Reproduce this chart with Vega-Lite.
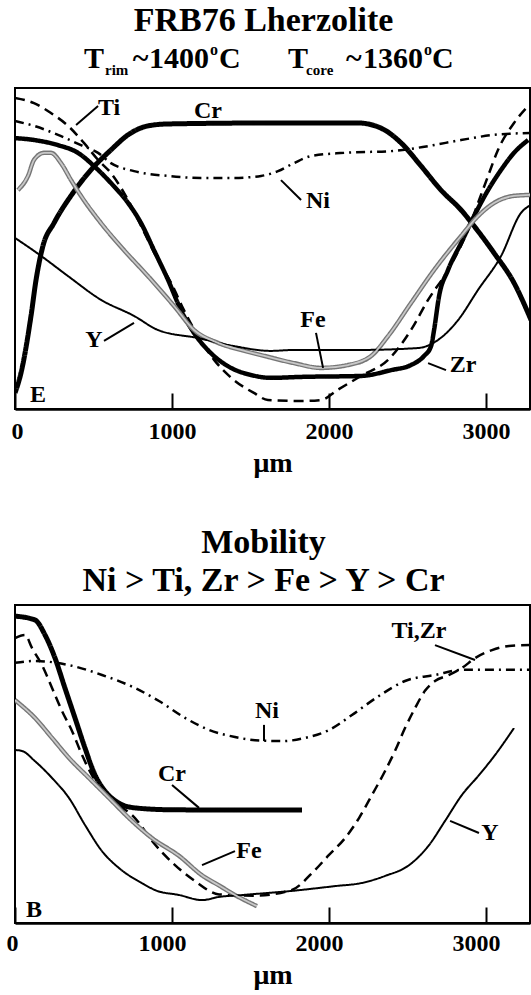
{
  "$schema": "https://vega.github.io/schema/vega-lite/v6.json",
  "padding": {"left": 5, "right": 2, "top": 2, "bottom": 0},
  "config": {
    "view": {"stroke": "#000", "strokeWidth": 2},
    "font": "Liberation Serif",
    "title": {"font": "Liberation Serif", "fontWeight": "bold", "fontSize": 34, "color": "#000", "anchor": "middle", "frame": "group"},
    "text": {"font": "Liberation Serif", "fontWeight": "bold", "fontSize": 24, "color": "#000"},
    "axisX": {
      "grid": false, "labelFlush": false,
      "domainColor": "#000", "domainWidth": 2.5, "tickColor": "#000", "tickWidth": 2, "tickSize": -16,
      "labelFont": "Liberation Serif", "labelFontWeight": "bold", "labelFontSize": 24, "labelColor": "#000",
      "titleFont": "Liberation Serif", "titleFontWeight": "bold", "titleFontSize": 28, "titleColor": "#000", "titlePadding": 6
    }
  },
  "datasets": {
    "frb76": [
      {"element": "Cr", "um": 0, "c": 5.0}, {"element": "Cr", "um": 38, "c": 11.2}, {"element": "Cr", "um": 102, "c": 29.0}, {"element": "Cr", "um": 134, "c": 40.2}, {"element": "Cr", "um": 178, "c": 50.8}, {"element": "Cr", "um": 248, "c": 57.9}, {"element": "Cr", "um": 369, "c": 67.3}, {"element": "Cr", "um": 484, "c": 74.5}, {"element": "Cr", "um": 611, "c": 80.7}, {"element": "Cr", "um": 720, "c": 85.4}, {"element": "Cr", "um": 847, "c": 88.2}, {"element": "Cr", "um": 975, "c": 88.8}, {"element": "Cr", "um": 1631, "c": 89.1}, {"element": "Cr", "um": 2185, "c": 89.1}, {"element": "Cr", "um": 2331, "c": 87.5}, {"element": "Cr", "um": 2459, "c": 82.9}, {"element": "Cr", "um": 2586, "c": 75.7}, {"element": "Cr", "um": 2713, "c": 68.2}, {"element": "Cr", "um": 2841, "c": 62.0}, {"element": "Cr", "um": 2924, "c": 57.0}, {"element": "Cr", "um": 3051, "c": 48.6}, {"element": "Cr", "um": 3178, "c": 39.3}, {"element": "Cr", "um": 3287, "c": 27.7},
      {"element": "Zr", "um": 0, "c": 84.4}, {"element": "Zr", "um": 121, "c": 83.8}, {"element": "Zr", "um": 274, "c": 82.2}, {"element": "Zr", "um": 401, "c": 79.8}, {"element": "Zr", "um": 503, "c": 75.7}, {"element": "Zr", "um": 611, "c": 70.4}, {"element": "Zr", "um": 720, "c": 64.2}, {"element": "Zr", "um": 803, "c": 57.9}, {"element": "Zr", "um": 885, "c": 49.5}, {"element": "Zr", "um": 975, "c": 40.2}, {"element": "Zr", "um": 1057, "c": 30.8}, {"element": "Zr", "um": 1140, "c": 23.7}, {"element": "Zr", "um": 1248, "c": 17.4}, {"element": "Zr", "um": 1376, "c": 12.8}, {"element": "Zr", "um": 1503, "c": 10.6}, {"element": "Zr", "um": 1631, "c": 9.7}, {"element": "Zr", "um": 1822, "c": 10.0}, {"element": "Zr", "um": 2204, "c": 10.3}, {"element": "Zr", "um": 2395, "c": 12.1}, {"element": "Zr", "um": 2522, "c": 13.7}, {"element": "Zr", "um": 2605, "c": 16.5}, {"element": "Zr", "um": 2650, "c": 19.6}, {"element": "Zr", "um": 2669, "c": 24.6}, {"element": "Zr", "um": 2701, "c": 35.2}, {"element": "Zr", "um": 2758, "c": 43.3}, {"element": "Zr", "um": 2841, "c": 51.7}, {"element": "Zr", "um": 2924, "c": 60.1}, {"element": "Zr", "um": 3013, "c": 68.2}, {"element": "Zr", "um": 3096, "c": 74.5}, {"element": "Zr", "um": 3178, "c": 79.8}, {"element": "Zr", "um": 3268, "c": 83.8},
      {"element": "Ti", "um": 0, "c": 96.9}, {"element": "Ti", "um": 121, "c": 95.3}, {"element": "Ti", "um": 229, "c": 92.2}, {"element": "Ti", "um": 338, "c": 88.2}, {"element": "Ti", "um": 439, "c": 82.9}, {"element": "Ti", "um": 529, "c": 77.6}, {"element": "Ti", "um": 611, "c": 73.5}, {"element": "Ti", "um": 720, "c": 65.1}, {"element": "Ti", "um": 803, "c": 57.0}, {"element": "Ti", "um": 911, "c": 46.4}, {"element": "Ti", "um": 994, "c": 39.3}, {"element": "Ti", "um": 1076, "c": 30.8}, {"element": "Ti", "um": 1166, "c": 22.7}, {"element": "Ti", "um": 1268, "c": 15.3}, {"element": "Ti", "um": 1395, "c": 9.0}, {"element": "Ti", "um": 1522, "c": 5.0}, {"element": "Ti", "um": 1611, "c": 2.8}, {"element": "Ti", "um": 1822, "c": 2.5}, {"element": "Ti", "um": 1949, "c": 2.8}, {"element": "Ti", "um": 2057, "c": 6.0}, {"element": "Ti", "um": 2204, "c": 10.3}, {"element": "Ti", "um": 2376, "c": 15.3}, {"element": "Ti", "um": 2522, "c": 24.6}, {"element": "Ti", "um": 2631, "c": 34.0}, {"element": "Ti", "um": 2758, "c": 43.3}, {"element": "Ti", "um": 2885, "c": 55.8}, {"element": "Ti", "um": 2949, "c": 64.2}, {"element": "Ti", "um": 3013, "c": 72.6}, {"element": "Ti", "um": 3076, "c": 80.7}, {"element": "Ti", "um": 3178, "c": 89.1}, {"element": "Ti", "um": 3268, "c": 94.4},
      {"element": "Ni", "um": 0, "c": 89.7}, {"element": "Ni", "um": 121, "c": 88.2}, {"element": "Ni", "um": 274, "c": 85.4}, {"element": "Ni", "um": 420, "c": 82.2}, {"element": "Ni", "um": 529, "c": 79.8}, {"element": "Ni", "um": 611, "c": 76.6}, {"element": "Ni", "um": 758, "c": 74.1}, {"element": "Ni", "um": 975, "c": 72.6}, {"element": "Ni", "um": 1185, "c": 72.0}, {"element": "Ni", "um": 1395, "c": 72.0}, {"element": "Ni", "um": 1567, "c": 72.6}, {"element": "Ni", "um": 1675, "c": 74.1}, {"element": "Ni", "um": 1777, "c": 76.6}, {"element": "Ni", "um": 1885, "c": 78.8}, {"element": "Ni", "um": 2096, "c": 79.8}, {"element": "Ni", "um": 2414, "c": 80.4}, {"element": "Ni", "um": 2631, "c": 81.9}, {"element": "Ni", "um": 2841, "c": 83.8}, {"element": "Ni", "um": 3051, "c": 85.4}, {"element": "Ni", "um": 3287, "c": 86.0},
      {"element": "Fe", "um": 19, "c": 68.2}, {"element": "Fe", "um": 83, "c": 72.6}, {"element": "Fe", "um": 121, "c": 77.6}, {"element": "Fe", "um": 185, "c": 79.8}, {"element": "Fe", "um": 229, "c": 79.8}, {"element": "Fe", "um": 293, "c": 76.6}, {"element": "Fe", "um": 357, "c": 71.3}, {"element": "Fe", "um": 420, "c": 66.4}, {"element": "Fe", "um": 548, "c": 57.9}, {"element": "Fe", "um": 694, "c": 49.5}, {"element": "Fe", "um": 847, "c": 41.4}, {"element": "Fe", "um": 1013, "c": 32.1}, {"element": "Fe", "um": 1140, "c": 24.6}, {"element": "Fe", "um": 1293, "c": 20.6}, {"element": "Fe", "um": 1439, "c": 18.4}, {"element": "Fe", "um": 1567, "c": 16.8}, {"element": "Fe", "um": 1777, "c": 14.3}, {"element": "Fe", "um": 1949, "c": 12.8}, {"element": "Fe", "um": 2121, "c": 13.7}, {"element": "Fe", "um": 2268, "c": 16.5}, {"element": "Fe", "um": 2376, "c": 22.7}, {"element": "Fe", "um": 2522, "c": 33.0}, {"element": "Fe", "um": 2669, "c": 43.3}, {"element": "Fe", "um": 2841, "c": 53.9}, {"element": "Fe", "um": 2949, "c": 60.1}, {"element": "Fe", "um": 3051, "c": 64.2}, {"element": "Fe", "um": 3178, "c": 66.4}, {"element": "Fe", "um": 3287, "c": 66.7},
      {"element": "Y", "um": 0, "c": 53.3}, {"element": "Y", "um": 166, "c": 47.7}, {"element": "Y", "um": 338, "c": 41.4}, {"element": "Y", "um": 548, "c": 34.0}, {"element": "Y", "um": 758, "c": 29.0}, {"element": "Y", "um": 911, "c": 24.6}, {"element": "Y", "um": 1166, "c": 22.1}, {"element": "Y", "um": 1395, "c": 19.6}, {"element": "Y", "um": 1631, "c": 18.1}, {"element": "Y", "um": 1777, "c": 18.4}, {"element": "Y", "um": 2204, "c": 18.4}, {"element": "Y", "um": 2567, "c": 19.0}, {"element": "Y", "um": 2694, "c": 21.5}, {"element": "Y", "um": 2822, "c": 27.7}, {"element": "Y", "um": 2949, "c": 37.1}, {"element": "Y", "um": 3096, "c": 47.7}, {"element": "Y", "um": 3223, "c": 61.1}, {"element": "Y", "um": 3287, "c": 63.6}
    ],
    "frb76Labels": [
      {"label": "Ti", "um": 599, "c": 93.8}, {"label": "Cr", "um": 1229, "c": 92.8}, {"label": "Ni", "um": 1930, "c": 64.8},
      {"label": "Y", "um": 503, "c": 21.5}, {"label": "Fe", "um": 1898, "c": 27.7}, {"label": "Zr", "um": 2853, "c": 13.7},
      {"label": "E", "um": 146, "c": 4.4}
    ],
    "frb76Leaders": [
      {"label": "Ti", "um": 389, "c": 88.5, "um2": 529, "c2": 94.4},
      {"label": "Ni", "um": 1694, "c": 71.3, "um2": 1822, "c2": 65.1},
      {"label": "Y", "um": 567, "c": 21.2, "um2": 758, "c2": 26.8},
      {"label": "Fe", "um": 1917, "c": 23.7, "um2": 1962, "c2": 12.8},
      {"label": "Zr", "um": 2631, "c": 14.3, "um2": 2745, "c2": 12.1}
    ],
    "frb76Heading": [
      {"piece": "T", "um": 439, "kind": "main"}, {"piece": "rim", "um": 573, "kind": "sub"},
      {"piece": "~", "um": 750, "kind": "main"}, {"piece": "1400", "um": 854, "kind": "main"},
      {"piece": "o", "um": 1242, "kind": "sup"}, {"piece": "C", "um": 1299, "kind": "main"},
      {"piece": "T", "um": 1739, "kind": "main"}, {"piece": "core", "um": 1854, "kind": "sub"},
      {"piece": "~", "um": 2108, "kind": "main"}, {"piece": "1360", "um": 2217, "kind": "main"},
      {"piece": "o", "um": 2605, "kind": "sup"}, {"piece": "C", "um": 2656, "kind": "main"}
    ],
    "mobility": [
      {"element": "Cr", "um": 0, "c": 96.5}, {"element": "Cr", "um": 127, "c": 95.3}, {"element": "Cr", "um": 191, "c": 90.6}, {"element": "Cr", "um": 255, "c": 83.3}, {"element": "Cr", "um": 318, "c": 73.9}, {"element": "Cr", "um": 382, "c": 64.5}, {"element": "Cr", "um": 446, "c": 55.0}, {"element": "Cr", "um": 510, "c": 46.5}, {"element": "Cr", "um": 573, "c": 41.5}, {"element": "Cr", "um": 662, "c": 37.7}, {"element": "Cr", "um": 764, "c": 36.2}, {"element": "Cr", "um": 1000, "c": 35.6}, {"element": "Cr", "um": 1637, "c": 35.5}, {"element": "Cr", "um": 1828, "c": 35.5},
      {"element": "Ti,Zr", "um": 0, "c": 89.6}, {"element": "Ti,Zr", "um": 64, "c": 90.6}, {"element": "Ti,Zr", "um": 108, "c": 86.5}, {"element": "Ti,Zr", "um": 172, "c": 81.1}, {"element": "Ti,Zr", "um": 236, "c": 73.9}, {"element": "Ti,Zr", "um": 299, "c": 66.7}, {"element": "Ti,Zr", "um": 363, "c": 60.4}, {"element": "Ti,Zr", "um": 427, "c": 52.8}, {"element": "Ti,Zr", "um": 490, "c": 46.5}, {"element": "Ti,Zr", "um": 554, "c": 41.5}, {"element": "Ti,Zr", "um": 662, "c": 37.1}, {"element": "Ti,Zr", "um": 764, "c": 33.0}, {"element": "Ti,Zr", "um": 873, "c": 25.8}, {"element": "Ti,Zr", "um": 1019, "c": 18.2}, {"element": "Ti,Zr", "um": 1146, "c": 13.2}, {"element": "Ti,Zr", "um": 1299, "c": 9.0}, {"element": "Ti,Zr", "um": 1530, "c": 8.6}, {"element": "Ti,Zr", "um": 1764, "c": 10.4}, {"element": "Ti,Zr", "um": 1892, "c": 15.7}, {"element": "Ti,Zr", "um": 2000, "c": 21.4}, {"element": "Ti,Zr", "um": 2102, "c": 26.7}, {"element": "Ti,Zr", "um": 2191, "c": 33.0}, {"element": "Ti,Zr", "um": 2274, "c": 40.3}, {"element": "Ti,Zr", "um": 2357, "c": 47.8}, {"element": "Ti,Zr", "um": 2420, "c": 54.1}, {"element": "Ti,Zr", "um": 2484, "c": 61.3}, {"element": "Ti,Zr", "um": 2548, "c": 67.6}, {"element": "Ti,Zr", "um": 2611, "c": 73.0}, {"element": "Ti,Zr", "um": 2675, "c": 76.1}, {"element": "Ti,Zr", "um": 2764, "c": 78.0}, {"element": "Ti,Zr", "um": 2847, "c": 80.2}, {"element": "Ti,Zr", "um": 2930, "c": 83.3}, {"element": "Ti,Zr", "um": 3038, "c": 85.8}, {"element": "Ti,Zr", "um": 3146, "c": 87.1}, {"element": "Ti,Zr", "um": 3280, "c": 87.4},
      {"element": "Ni", "um": 0, "c": 81.8}, {"element": "Ni", "um": 127, "c": 82.4}, {"element": "Ni", "um": 344, "c": 81.1}, {"element": "Ni", "um": 554, "c": 78.0}, {"element": "Ni", "um": 764, "c": 73.9}, {"element": "Ni", "um": 917, "c": 69.8}, {"element": "Ni", "um": 1083, "c": 64.5}, {"element": "Ni", "um": 1236, "c": 60.7}, {"element": "Ni", "um": 1401, "c": 58.5}, {"element": "Ni", "um": 1529, "c": 57.5}, {"element": "Ni", "um": 1701, "c": 57.2}, {"element": "Ni", "um": 1847, "c": 58.2}, {"element": "Ni", "um": 2000, "c": 60.7}, {"element": "Ni", "um": 2146, "c": 65.4}, {"element": "Ni", "um": 2318, "c": 71.4}, {"element": "Ni", "um": 2484, "c": 76.1}, {"element": "Ni", "um": 2675, "c": 78.0}, {"element": "Ni", "um": 2847, "c": 79.6}, {"element": "Ni", "um": 3057, "c": 79.6}, {"element": "Ni", "um": 3280, "c": 79.6},
      {"element": "Fe", "um": 0, "c": 70.1}, {"element": "Fe", "um": 127, "c": 64.5}, {"element": "Fe", "um": 236, "c": 58.2}, {"element": "Fe", "um": 344, "c": 51.9}, {"element": "Fe", "um": 471, "c": 45.6}, {"element": "Fe", "um": 599, "c": 39.3}, {"element": "Fe", "um": 726, "c": 33.0}, {"element": "Fe", "um": 873, "c": 26.7}, {"element": "Fe", "um": 1045, "c": 21.1}, {"element": "Fe", "um": 1191, "c": 15.0}, {"element": "Fe", "um": 1300, "c": 11.8}, {"element": "Fe", "um": 1401, "c": 8.8}, {"element": "Fe", "um": 1541, "c": 5.3},
      {"element": "Y", "um": 0, "c": 54.4}, {"element": "Y", "um": 45, "c": 54.1}, {"element": "Y", "um": 127, "c": 50.9}, {"element": "Y", "um": 236, "c": 45.6}, {"element": "Y", "um": 344, "c": 39.3}, {"element": "Y", "um": 446, "c": 30.8}, {"element": "Y", "um": 554, "c": 22.6}, {"element": "Y", "um": 662, "c": 17.3}, {"element": "Y", "um": 809, "c": 12.5}, {"element": "Y", "um": 900, "c": 10.2}, {"element": "Y", "um": 1045, "c": 8.8}, {"element": "Y", "um": 1191, "c": 7.2}, {"element": "Y", "um": 1299, "c": 8.2}, {"element": "Y", "um": 1446, "c": 8.8}, {"element": "Y", "um": 1764, "c": 10.1}, {"element": "Y", "um": 2038, "c": 11.6}, {"element": "Y", "um": 2210, "c": 12.6}, {"element": "Y", "um": 2357, "c": 14.8}, {"element": "Y", "um": 2510, "c": 18.2}, {"element": "Y", "um": 2637, "c": 24.5}, {"element": "Y", "um": 2739, "c": 32.1}, {"element": "Y", "um": 2847, "c": 40.3}, {"element": "Y", "um": 2955, "c": 46.5}, {"element": "Y", "um": 3057, "c": 52.8}, {"element": "Y", "um": 3178, "c": 61.3}
    ],
    "mobilityLabels": [
      {"label": "Ti,Zr", "um": 2573, "c": 91.8}, {"label": "Ni", "um": 1605, "c": 66.7}, {"label": "Cr", "um": 1000, "c": 46.9},
      {"label": "Fe", "um": 1490, "c": 22.6}, {"label": "Y", "um": 3025, "c": 28.3}, {"label": "B", "um": 121, "c": 4.1}
    ],
    "mobilityLeaders": [
      {"label": "Ti,Zr", "um": 2675, "c": 87.4, "um2": 2930, "c2": 82.7},
      {"label": "Ni", "um": 1586, "c": 62.3, "um2": 1586, "c2": 57.2},
      {"label": "Cr", "um": 1000, "c": 43.4, "um2": 1172, "c2": 36.2},
      {"label": "Fe", "um": 1191, "c": 18.2, "um2": 1401, "c2": 22.6},
      {"label": "Y", "um": 2771, "c": 32.1, "um2": 2955, "c2": 28.3}
    ]
  },
  "spacing": 47,
  "vconcat": [
    {
      "width": 515,
      "height": 321,
      "title": {"text": "FRB76 Lherzolite", "baseline": "alphabetic", "frame": "group", "offset": -23, "dx": -9},
      "encoding": {
        "x": {"field": "um", "type": "quantitative", "scale": {"domain": [0, 3280], "nice": false, "zero": false},
              "axis": {"title": "μm", "values": [0, 1000, 2000, 3000], "format": "d", "labelPadding": 26,
                       "labelOffset": {"condition": {"test": "datum.value === 0", "value": 2}, "value": 0}}}
      },
      "layer": [
        {
          "data": {"name": "frb76"},
          "mark": {"type": "line", "interpolate": "monotone", "clip": true},
          "encoding": {
            "y": {"field": "c", "type": "quantitative", "scale": {"domain": [0, 100], "nice": false}, "axis": null},
            "detail": {"field": "element"},
            "color": {"field": "element", "legend": null, "scale": {"domain": ["Cr", "Zr", "Ti", "Ni", "Fe", "Y", "Ti,Zr"], "range": ["#000", "#000", "#000", "#000", "#767676", "#000", "#000"]}},
            "strokeWidth": {"field": "element", "legend": null, "scale": {"type": "ordinal", "domain": ["Cr", "Zr", "Ti", "Ni", "Fe", "Y", "Ti,Zr"], "range": [5, 4.5, 2.5, 2.5, 4.5, 2, 2.5]}},
            "strokeDash": {"field": "element", "legend": null, "scale": {"domain": ["Cr", "Zr", "Ti", "Ni", "Fe", "Y", "Ti,Zr"], "range": [[1, 0], [1, 0], [10, 6], [9, 5, 2, 5], [1, 0], [1, 0], [10, 6]]}}
          }
        },
        {
          "data": {"name": "frb76"},
          "transform": [{"filter": "datum.element === 'Fe'"}],
          "mark": {"type": "line", "interpolate": "monotone", "clip": true, "color": "#c8c8c8", "strokeWidth": 1.8},
          "encoding": {"y": {"field": "c", "type": "quantitative"}}
        },
        {
          "data": {"name": "frb76Leaders"},
          "mark": {"type": "rule", "color": "#000", "strokeWidth": 2},
          "encoding": {"y": {"field": "c", "type": "quantitative"}, "x2": {"field": "um2"}, "y2": {"field": "c2"}}
        },
        {
          "data": {"name": "frb76Labels"},
          "mark": {"type": "text", "align": "center", "baseline": "middle"},
          "encoding": {"y": {"field": "c", "type": "quantitative"}, "text": {"field": "label"}}
        },
        {
          "data": {"name": "frb76Heading"},
          "transform": [{"filter": "datum.kind === 'main'"}],
          "mark": {"type": "text", "align": "left", "baseline": "alphabetic", "fontSize": 30},
          "encoding": {"y": {"datum": 106.3, "type": "quantitative"}, "text": {"field": "piece"}}
        },
        {
          "data": {"name": "frb76Heading"},
          "transform": [{"filter": "datum.kind === 'sub'"}],
          "mark": {"type": "text", "align": "left", "baseline": "alphabetic", "fontSize": 15, "dy": 7},
          "encoding": {"y": {"datum": 106.3, "type": "quantitative"}, "text": {"field": "piece"}}
        },
        {
          "data": {"name": "frb76Heading"},
          "transform": [{"filter": "datum.kind === 'sup'"}],
          "mark": {"type": "text", "align": "left", "baseline": "alphabetic", "fontSize": 16, "dy": -13},
          "encoding": {"y": {"datum": 106.3, "type": "quantitative"}, "text": {"field": "piece"}}
        }
      ]
    },
    {
      "width": 515,
      "height": 318,
      "title": {"text": ["Mobility", "Ni > Ti, Zr > Fe > Y > Cr"], "baseline": "bottom", "frame": "group", "lineHeight": 38, "offset": -27, "dx": -9},
      "encoding": {
        "x": {"field": "um", "type": "quantitative", "scale": {"domain": [0, 3280], "nice": false, "zero": false},
              "axis": {"title": "μm", "values": [0, 1000, 2000, 3000], "format": "d", "labelPadding": 24,
                       "labelOffset": {"condition": {"test": "datum.value === 0", "value": -3}, "value": -10}}}
      },
      "layer": [
        {
          "data": {"name": "mobility"},
          "mark": {"type": "line", "interpolate": "monotone", "clip": true},
          "encoding": {
            "y": {"field": "c", "type": "quantitative", "scale": {"domain": [0, 100], "nice": false}, "axis": null},
            "detail": {"field": "element"},
            "color": {"field": "element", "legend": null, "scale": {"domain": ["Cr", "Zr", "Ti", "Ni", "Fe", "Y", "Ti,Zr"], "range": ["#000", "#000", "#000", "#000", "#767676", "#000", "#000"]}},
            "strokeWidth": {"field": "element", "legend": null, "scale": {"type": "ordinal", "domain": ["Cr", "Zr", "Ti", "Ni", "Fe", "Y", "Ti,Zr"], "range": [5, 4.5, 2.5, 2.5, 4.5, 2, 2.5]}},
            "strokeDash": {"field": "element", "legend": null, "scale": {"domain": ["Cr", "Zr", "Ti", "Ni", "Fe", "Y", "Ti,Zr"], "range": [[1, 0], [1, 0], [10, 6], [9, 5, 2, 5], [1, 0], [1, 0], [10, 6]]}}
          }
        },
        {
          "data": {"name": "mobility"},
          "transform": [{"filter": "datum.element === 'Fe'"}],
          "mark": {"type": "line", "interpolate": "monotone", "clip": true, "color": "#c8c8c8", "strokeWidth": 1.8},
          "encoding": {"y": {"field": "c", "type": "quantitative"}}
        },
        {
          "data": {"name": "mobilityLeaders"},
          "mark": {"type": "rule", "color": "#000", "strokeWidth": 2},
          "encoding": {"y": {"field": "c", "type": "quantitative"}, "x2": {"field": "um2"}, "y2": {"field": "c2"}}
        },
        {
          "data": {"name": "mobilityLabels"},
          "mark": {"type": "text", "align": "center", "baseline": "middle"},
          "encoding": {"y": {"field": "c", "type": "quantitative"}, "text": {"field": "label"}}
        }
      ]
    }
  ]
}
